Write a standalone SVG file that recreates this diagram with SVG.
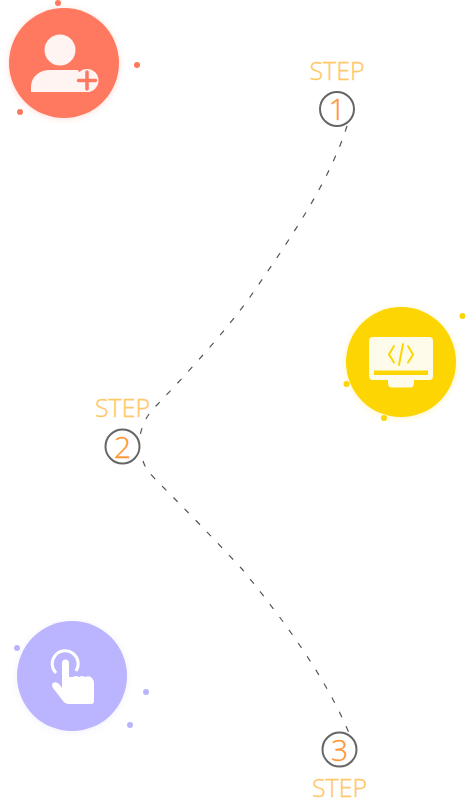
<svg xmlns="http://www.w3.org/2000/svg" width="465" height="798" viewBox="0 0 465 798">
<style>
.step{font-family:"Open Sans","Noto Sans",sans-serif;font-size:25px;font-weight:300;fill:#ffc766;stroke:#ffc766;stroke-width:.3;text-anchor:middle}
.num{font-family:"Open Sans","Noto Sans",sans-serif;font-size:30px;font-weight:300;fill:#ff9433;stroke:#ff9433;stroke-width:.3;text-anchor:middle}
.ring{fill:#fff;stroke:#666;stroke-width:2}
.dash{fill:none;stroke:#555;stroke-width:1.200;stroke-dasharray:6 10}
</style>
<defs>
<filter id="glow" x="-30%" y="-30%" width="160%" height="160%"><feGaussianBlur stdDeviation="3"/></filter>
</defs>
<g id="connectors">
<path class="dash" d="M347 126C330 180 293 235 250 297C225 332 190 370 157 405C150 412 143 420 140 436"/>
<path class="dash" d="M143 461C146 470 150 474 164 488C185 509 215 540 242 569C268 601 322 668 349 733"/>
</g>
<g id="icon-user">
<circle cx="64" cy="64" r="55" fill="#ff7860" opacity=".25" filter="url(#glow)"/>
<circle cx="64" cy="63" r="55" fill="#ff7860"/>
<circle cx="58" cy="3" r="3" fill="#ff7860"/><circle cx="137" cy="65" r="3" fill="#ff7860"/><circle cx="20" cy="112" r="3" fill="#ff7860"/>
<circle cx="60" cy="50" r="15.500" fill="#fff4f1"/>
<path d="M31 92V87C31 76 40 70 50 70H78L88 92Z" fill="#fff4f1"/>
<circle cx="87" cy="80.500" r="11.500" fill="#fff4f1"/>
<path d="M78.500 80.500H95.500M87 72V89" stroke="#ff7860" stroke-width="3.500" stroke-linecap="round" fill="none"/>
</g>
<g id="icon-code">
<circle cx="401" cy="363" r="55" fill="#fdd503" opacity=".25" filter="url(#glow)"/>
<circle cx="401" cy="362" r="55" fill="#fdd503"/>
<circle cx="462.500" cy="316" r="3" fill="#fdd503"/><circle cx="346.500" cy="384" r="3" fill="#fdd503"/><circle cx="384" cy="418" r="3" fill="#fdd503"/>
<rect x="369" y="337" width="64" height="43" rx="4" fill="#fffbea"/>
<path d="M388 380H414V383Q414 387.500 410 387.500H392Q388 387.500 388 383Z" fill="#fffbea"/>
<rect x="374" y="370.500" width="54" height="4.500" fill="#fdd503"/>
<path d="M394 346L389 354.500L394 362.500M408 346L413 354.500L408 362.500M403 344L399 365" stroke="#fdd503" stroke-width="2" fill="none" stroke-linecap="round"/>
</g>
<g id="icon-touch">
<circle cx="72" cy="677" r="55" fill="#bbb4ff" opacity=".2" filter="url(#glow)"/>
<circle cx="72" cy="676" r="55" fill="#bbb4ff"/>
<circle cx="17" cy="648" r="3" fill="#bbb4ff"/><circle cx="146" cy="692" r="3" fill="#bbb4ff"/><circle cx="130" cy="725" r="3" fill="#bbb4ff"/>
<path d="M56 673A13 13 0 1 1 76 671" fill="none" stroke="#fff" stroke-width="3"/>
<path d="M62 663A3.300 3.300 0 0 1 69 663V677L73 677Q76 675 79 677Q82 675 85 677Q89 675 92 678Q94 680 94 684V701Q94 704 91 704H68Q65 704 63 701L53 688Q51 685 53 683Q56 681 59 684L62 688Z" fill="#fff"/>
</g>
<g id="step-1">
<text class="step" x="337" y="80">STEP</text>
<circle class="ring" cx="337" cy="109" r="17"/>
<text class="num" x="337" y="120">1</text>
</g>
<g id="step-2">
<text class="step" x="122.500" y="417">STEP</text>
<circle class="ring" cx="122.500" cy="446.500" r="17"/>
<text class="num" x="122.500" y="457.500">2</text>
</g>
<g id="step-3">
<text class="step" x="339.500" y="796.500">STEP</text>
<circle class="ring" cx="339.500" cy="749.500" r="17"/>
<text class="num" x="339.500" y="760.500">3</text>
</g>
</svg>
